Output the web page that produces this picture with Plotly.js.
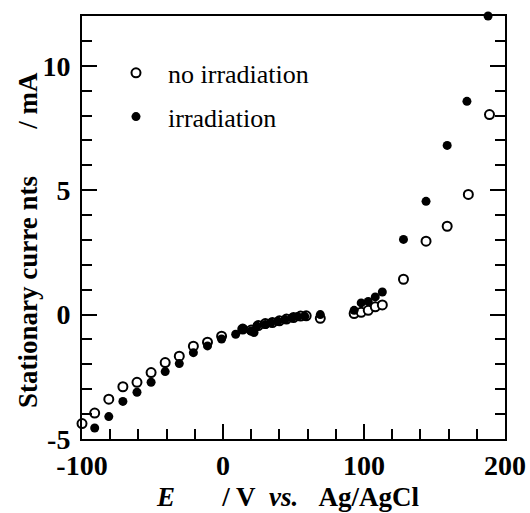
<!DOCTYPE html>
<html>
<head>
<meta charset="utf-8">
<script src="https://cdn.plot.ly/plotly-3.0.1.min.js"></script>
<style>html,body{margin:0;padding:0;background:#fff;}#chart{width:530px;height:513px;}</style>
</head>
<body>
<div id="chart"></div>
<script>
// Potential E (V vs Ag/AgCl) and stationary current (mA)
const openX = [-100, -91, -81, -71, -61, -51, -41, -31, -21, -11, -1, 14, 20, 25, 30, 35, 40, 45, 50, 55, 59, 69, 93, 98, 103, 108, 113, 128, 144, 159, 174, 189];
const openY = [-4.38, -3.96, -3.40, -2.90, -2.72, -2.33, -1.93, -1.67, -1.27, -1.11, -0.87, -0.58, -0.62, -0.44, -0.36, -0.32, -0.25, -0.18, -0.12, -0.06, -0.05, -0.15, 0.04, 0.09, 0.17, 0.31, 0.39, 1.42, 2.95, 3.55, 4.83, 8.04];
const filledX = [-91, -81, -71, -61, -51, -41, -31, -21, -11, -1, 9, 14, 20, 22, 24, 30, 34, 39, 44, 49, 53, 58, 69, 93, 98, 103, 108, 113, 128, 144, 159, 173, 188];
const filledY = [-4.56, -4.10, -3.49, -3.12, -2.72, -2.29, -1.97, -1.53, -1.26, -0.98, -0.79, -0.59, -0.66, -0.72, -0.46, -0.40, -0.33, -0.27, -0.20, -0.13, -0.08, -0.07, 0.0, 0.17, 0.47, 0.53, 0.71, 0.91, 3.02, 4.55, 6.80, 8.57, 12.0];
const seriesNames = ["no irradiation", "irradiation"];
const xTicks = [-100, 0, 100, 200];
const yTicks = [-5, 0, 5, 10];
const xTitle = '<i>E</i>\u00a0\u00a0\u00a0\u00a0\u00a0\u00a0\u00a0/ V\u00a0 <i>vs.</i>\u00a0\u00a0\u00a0Ag/AgCl';
const yTitle = 'Stationary curre\u00a0nts\u00a0\u00a0\u00a0\u00a0\u00a0\u00a0\u00a0/ mA';

const FONT = '"Liberation Serif", "Times New Roman", Times, serif';

const traces = [
  {
    x: openX, y: openY, name: seriesNames[0], type: 'scatter', mode: 'markers',
    legendgroup: 'a', cliponaxis: false,
    marker: {symbol: 'circle', size: 9, color: '#ffffff', line: {color: '#000000', width: 2}}
  },
  {
    x: filledX, y: filledY, name: seriesNames[1], type: 'scatter', mode: 'markers',
    legendgroup: 'b', cliponaxis: false,
    marker: {symbol: 'circle', size: 9, color: '#000000', line: {color: '#000000', width: 0}}
  }
];

const layout = {
  width: 530, height: 513,
  margin: {l: 82, r: 25, t: 16, b: 74},
  paper_bgcolor: '#ffffff', plot_bgcolor: '#ffffff',
  font: {family: FONT, color: '#000000'},
  showlegend: true,
  legend: {
    x: 0.052, y: 0.921, xanchor: 'left', yanchor: 'top',
    bgcolor: 'rgba(0,0,0,0)', borderwidth: 0,
    font: {family: FONT, size: 26, color: '#000000'},
    itemwidth: 54, tracegroupgap: 7
  },
  xaxis: {
    range: [-100, 200], tickvals: xTicks, ticktext: xTicks.map(String),
    ticks: 'inside', ticklen: 15, tickwidth: 2, tickcolor: '#000',
    minor: {dtick: 20, tick0: 0, ticks: 'inside', ticklen: 10, tickwidth: 2, tickcolor: '#000'},
    showline: true, linewidth: 2, linecolor: '#000', mirror: true,
    showgrid: false, zeroline: false,
    tickfont: {family: FONT, size: 28, color: '#000', weight: 'bold'}
  },
  yaxis: {
    range: [-5, 12], tickvals: yTicks, ticktext: yTicks.map(String),
    ticks: 'inside', ticklen: 15, tickwidth: 2, tickcolor: '#000',
    minor: {dtick: 1, tick0: 0, ticks: 'inside', ticklen: 10, tickwidth: 2, tickcolor: '#000'},
    showline: true, linewidth: 2, linecolor: '#000', mirror: 'ticks',
    showgrid: false, zeroline: false,
    tickfont: {family: FONT, size: 28, color: '#000', weight: 'bold'},
    ticklabelstandoff: 4
  },
  annotations: [
    {
      text: xTitle, xref: 'paper', yref: 'paper',
      x: (288 - 82) / 423, y: -(497 - 439) / 423, xanchor: 'center', yanchor: 'middle',
      showarrow: false, font: {family: FONT, size: 27, color: '#000', weight: 'bold'}
    },
    {
      text: yTitle, xref: 'paper', yref: 'paper', textangle: -90,
      x: -(82 - 28) / 423, y: (439 - 240) / 423, xanchor: 'center', yanchor: 'middle',
      showarrow: false, font: {family: FONT, size: 27, color: '#000', weight: 'bold'}
    }
  ]
};

Plotly.newPlot('chart', traces, layout, {displayModeBar: false, staticPlot: true});
</script>
</body>
</html>
